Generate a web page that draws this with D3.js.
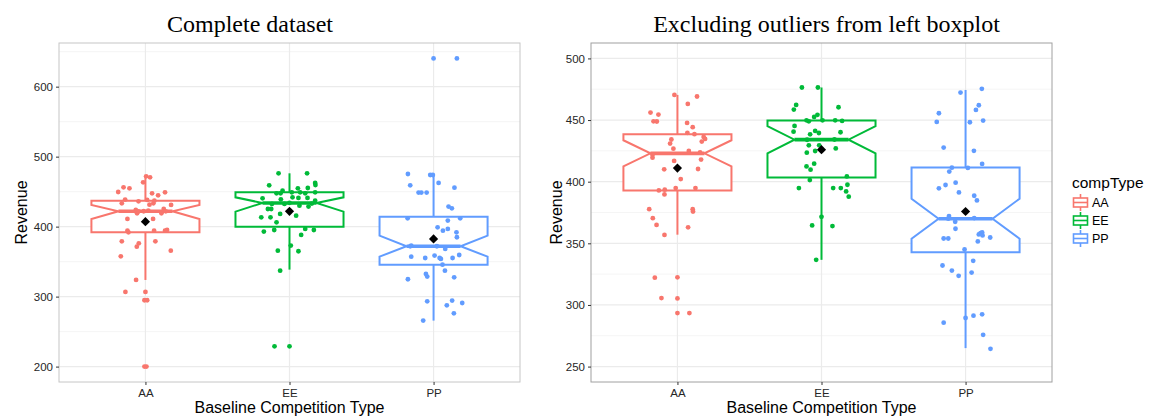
<!DOCTYPE html>
<html>
<head>
<meta charset="utf-8">
<script src="https://cdn.jsdelivr.net/npm/d3@7"></script>
<style>
  body { margin: 0; background: #fff; }
  svg { display: block; }
</style>
</head>
<body>
<div id="chart"></div>
<script>
// categories and tick values
var categories = ["AA", "EE", "PP"];
var yTicksComplete = [200, 300, 400, 500, 600];
var yMinorComplete = [250, 350, 450, 550, 650];
var yTicksExcl = [250, 300, 350, 400, 450, 500];
var yMinorExcl = [275, 325, 375, 425, 475];

// revenue of each point, complete dataset
var completeAA = [471.9, 470.5, 463.3, 456.2, 454.8, 449.5, 447.6, 449.0, 444.8, 438.6, 433.3, 436.2, 438.1, 437.1,
  433.3, 431.4, 431.0, 423.8, 419.0, 421.9, 425.2, 421.9, 419.0, 411.0, 411.0, 394.3, 391.9, 394.3, 394.3, 395.2,
  379.0, 379.0, 376.2, 371.4, 365.7, 357.6, 323.8, 306.7, 306.7, 294.8, 294.8, 200.0, 200.0, 422.0, 423.0];
var completeEE = [476.2, 476.2, 462.4, 459.5, 459.0, 454.8, 455.2, 451.4, 447.6, 447.6, 449.0, 449.0, 447.6, 449.0,
  440.5, 439.0, 441.9, 441.0, 441.0, 437.1, 432.4, 432.4, 430.0, 425.2, 425.2, 428.6, 418.1, 415.7, 413.3, 413.3,
  406.2, 395.2, 392.9, 396.7, 395.2, 388.1, 372.9, 365.7, 364.8, 337.1, 229.0, 229.0, 434.0, 433.0];
var completePP = [475.2, 473.8, 473.8, 459.0, 462.4, 455.7, 448.6, 448.6, 448.6, 428.6, 426.2, 411.9, 411.9, 408.6,
  399.0, 394.3, 396.7, 391.9, 384.8, 372.9, 368.1, 357.1, 355.2, 358.6, 355.2, 353.8, 355.2, 359.5, 345.7, 337.1,
  332.4, 328.6, 324.8, 327.6, 293.3, 294.3, 287.6, 290.9, 276.2, 265.7, 640.4, 640.4, 372.0, 371.9];
// jitter offsets, in category steps
var completeAAJitter = [0.005, 0.032, -0.016, -0.152, -0.111, -0.189, 0.046, 0.136, 0.088, -0.141, -0.164, -0.048, 0.012, 0.062,
  0.055, 0.028, 0.178, -0.067, -0.058, -0.048, 0.127, 0.141, 0.111, -0.125, 0.053, -0.125, -0.118, 0.06, 0.136, 0.15,
  -0.164, 0.069, -0.046, -0.06, 0.176, -0.171, -0.065, -0.139, 0, -0.007, 0.012, -0.007, 0.007, -0.012, 0.02];
var completeEEJitter = [-0.076, 0.122, 0.178, 0.18, -0.141, 0.058, 0.127, -0.048, -0.09, -0.062, 0.016, 0.074, 0.109, 0.178,
  -0.187, -0.06, 0.021, 0.062, 0.125, 0.178, -0.122, -0.035, 0.069, -0.15, -0.127, 0.132, -0.065, 0.046, -0.196, -0.132,
  -0.09, -0.106, -0.178, 0.109, 0.169, 0.081, 0.009, -0.081, 0.062, -0.065, -0.104, 0, 0, 0.155];
var completePPJitter = [-0.178, -0.023, -0.005, -0.162, 0.035, 0.145, -0.104, -0.085, -0.048, 0.104, 0.127, -0.18, 0.185, 0.099,
  0.028, 0.065, 0.099, 0.159, 0.162, -0.155, 0.081, -0.155, -0.058, 0.007, 0.042, 0.051, 0.132, 0.178, 0.062, 0.079,
  -0.053, -0.044, -0.178, 0.143, -0.044, 0.129, 0.092, 0.199, 0.141, -0.072, 0, 0.162, 0.023, -0.162];

// revenue of each point, outliers excluded
var exclAA = [470.4, 469.1, 463.1, 456.1, 454.4, 449.0, 448.8, 447.7, 444.2, 439.6, 438.5, 436.3, 434.7, 434.2,
  432.5, 430.9, 426.8, 424.9, 423.8, 421.9, 419.5, 417.9, 416.8, 410.0, 410.3, 402.1, 392.9, 393.5, 389.7, 394.8,
  394.8, 377.7, 375.8, 377.7, 370.4, 364.9, 363.0, 356.8, 322.1, 322.4, 305.6, 305.3, 293.4, 293.4];
var exclEE = [476.4, 476.4, 460.4, 462.3, 458.5, 454.2, 452.5, 449.8, 449.0, 449.8, 449.8, 449.3, 445.2, 440.6,
  441.2, 439.5, 438.4, 440.1, 429.5, 429.5, 427.0, 424.9, 423.5, 412.4, 409.7, 414.6, 401.3, 404.3, 394.8, 394.8,
  394.8, 397.5, 392.1, 387.8, 371.5, 364.5, 364.0, 336.6, 434.0, 434.2, 425.9];
var exclPP = [475.3, 472.3, 462.0, 458.2, 455.5, 448.5, 448.2, 449.6, 427.7, 425.0, 414.4, 411.4, 411.2, 408.2,
  399.2, 397.3, 394.6, 391.3, 388.6, 384.8, 372.1, 367.5, 361.8, 353.9, 353.9, 358.3, 358.8, 357.2, 351.5, 354.7,
  356.4, 345.0, 335.8, 332.0, 327.9, 323.6, 326.3, 292.4, 291.3, 289.4, 285.6, 275.8, 264.4, 370.0, 370.5];
var exclAAJitter = [-0.021, 0.136, 0.072, -0.187, -0.132, -0.166, -0.143, 0.067, 0.106, 0.069, 0.118, 0.182, 0.192, -0.042,
  0.169, -0.051, -0.028, 0.079, 0.157, -0.173, -0.173, 0.164, -0.023, -0.092, 0.143, 0.023, -0.129, -0.088, -0.09, -0.012,
  0.125, 0.106, 0.108, -0.196, -0.171, -0.145, 0.074, -0.09, -0.157, 0, -0.111, 0, 0, 0.083];
var exclEEJitter = [-0.136, -0.025, 0.118, -0.176, -0.192, -0.028, -0.051, -0.104, -0.088, 0.007, 0.095, 0.143, -0.187, -0.194,
  -0.044, -0.018, -0.079, 0.132, -0.088, -0.016, 0.099, -0.044, -0.102, -0.104, -0.076, -0.051, -0.081, 0.176, -0.157, 0.081,
  0.134, 0.18, 0.171, 0.189, 0, -0.065, 0.076, -0.037, -0.1, 0.09, 0];
var exclPPJitter = [0.113, -0.035, 0.092, 0.072, -0.185, -0.2, 0.03, 0.122, -0.152, 0.058, 0.115, -0.095, 0.016, -0.113,
  -0.069, -0.139, -0.185, -0.046, 0.06, 0.079, -0.115, -0.072, -0.07, -0.152, -0.12, 0.104, 0.115, 0.092, 0.085, 0.171,
  0.118, -0.007, 0.053, -0.16, -0.095, -0.048, 0.042, 0.115, 0.055, 0, -0.152, 0.122, 0.173, -0.12, 0.06];

// boxplot statistics (AA, EE, PP)
var completeQ1 = [391.9, 400.0, 345.7];
var completeMedian = [421.9, 433.8, 371.9];
var completeQ3 = [437.1, 449.0, 414.3];
var completeNotchLo = [411.0, 421.4, 357.1];
var completeNotchHi = [431.0, 441.9, 387.1];
var completeWhiskerLo = [323.8, 338.6, 265.7];
var completeWhiskerHi = [471.9, 476.2, 473.8];
var completeMean = [407.1, 421.9, 382.4];

var exclQ1 = [392.9, 403.3, 342.8];
var exclMedian = [423.0, 434.1, 369.9];
var exclQ3 = [438.5, 449.6, 411.6];
var exclNotchLo = [412.4, 423.0, 353.7];
var exclNotchHi = [433.6, 445.0, 386.2];
var exclWhiskerLo = [357.0, 336.6, 265.0];
var exclWhiskerHi = [470.4, 476.4, 474.4];
var exclMean = [411.0, 426.0, 375.8];

var colors = ["#F8766D", "#00BA38", "#619CFF"];

var svgWidth = 1152;
var svgHeight = 416;
var plotTop = 43;
var plotBottom = 382;

var svg = d3.select("#chart")
  .append("svg")
  .attr("width", svgWidth)
  .attr("height", svgHeight);

var panels = [
  {
    title: "Complete dataset", titleX: 250, left: 59, right: 520, domain: [178, 662.4],
    ticks: yTicksComplete, minor: yMinorComplete, yTitleX: 27, border: "#c6c6c6",
    values: [completeAA, completeEE, completePP],
    jitter: [completeAAJitter, completeEEJitter, completePPJitter],
    q1: completeQ1, med: completeMedian, q3: completeQ3, nlo: completeNotchLo, nhi: completeNotchHi,
    wlo: completeWhiskerLo, whi: completeWhiskerHi, mean: completeMean
  },
  {
    title: "Excluding outliers from left boxplot", titleX: 826.5, left: 591, right: 1052, domain: [237.5, 512.5],
    ticks: yTicksExcl, minor: yMinorExcl, yTitleX: 562, border: "#a0a0a0",
    values: [exclAA, exclEE, exclPP],
    jitter: [exclAAJitter, exclEEJitter, exclPPJitter],
    q1: exclQ1, med: exclMedian, q3: exclQ3, nlo: exclNotchLo, nhi: exclNotchHi,
    wlo: exclWhiskerLo, whi: exclWhiskerHi, mean: exclMean
  }
];

function drawPanel(p) {
  var x = d3.scalePoint().domain(categories).range([p.left, p.right]).padding(0.6);
  var y = d3.scaleLinear().domain(p.domain).range([plotBottom, plotTop]);
  var step = x.step();
  var w = step * 0.75;
  var g = svg.append("g");

  // title
  svg.append("text")
    .attr("x", p.titleX)
    .attr("y", 32)
    .attr("text-anchor", "middle")
    .style("font-family", "'Liberation Serif', 'Times New Roman', serif")
    .style("font-size", "24px")
    .attr("fill", "#000")
    .text(p.title);

  // grid
  g.selectAll(".minor").data(p.minor).enter().append("line")
    .attr("x1", p.left).attr("x2", p.right)
    .attr("y1", d => y(d)).attr("y2", d => y(d))
    .attr("stroke", "#f3f3f3").attr("stroke-width", 0.8);
  g.selectAll(".major").data(p.ticks).enter().append("line")
    .attr("x1", p.left).attr("x2", p.right)
    .attr("y1", d => y(d)).attr("y2", d => y(d))
    .attr("stroke", "#ebebeb").attr("stroke-width", 1.2);
  g.selectAll(".xgrid").data(categories).enter().append("line")
    .attr("x1", d => x(d)).attr("x2", d => x(d))
    .attr("y1", plotTop).attr("y2", plotBottom)
    .attr("stroke", "#ebebeb").attr("stroke-width", 1.2);

  // border
  g.append("rect")
    .attr("x", p.left).attr("y", plotTop)
    .attr("width", p.right - p.left).attr("height", plotBottom - plotTop)
    .attr("fill", "none").attr("stroke", p.border).attr("stroke-width", 1);

  // axes
  var yAxis = g.append("g")
    .attr("transform", "translate(" + p.left + ",0)")
    .call(d3.axisLeft(y).tickValues(p.ticks).tickSize(3).tickPadding(3));
  var xAxis = g.append("g")
    .attr("transform", "translate(0," + plotBottom + ")")
    .call(d3.axisBottom(x).tickSize(3).tickPadding(4));
  [yAxis, xAxis].forEach(function (a) {
    a.select(".domain").remove();
    a.selectAll("line").attr("stroke", "#333");
    a.selectAll("text")
      .attr("fill", "#262626")
      .style("font-family", "'Liberation Sans', Arial, sans-serif")
      .style("font-size", "11.5px");
  });

  // axis titles
  g.append("text")
    .attr("x", (p.left + p.right) / 2)
    .attr("y", 413)
    .attr("text-anchor", "middle")
    .style("font-family", "'Liberation Sans', Arial, sans-serif")
    .style("font-size", "16px")
    .text("Baseline Competition Type");
  g.append("text")
    .attr("transform", "translate(" + p.yTitleX + "," + ((plotTop + plotBottom) / 2) + ") rotate(-90)")
    .attr("text-anchor", "middle")
    .style("font-family", "'Liberation Sans', Arial, sans-serif")
    .style("font-size", "16px")
    .text("Revenue");

  // boxplots
  categories.forEach(function (c, i) {
    var cx = x(c);
    var x0 = cx - w / 2, x1 = cx + w / 2, inset = w / 4;
    var col = colors[i];
    g.append("line")
      .attr("x1", cx).attr("x2", cx)
      .attr("y1", y(p.q3[i])).attr("y2", y(p.whi[i]))
      .attr("stroke", col).attr("stroke-width", 2);
    g.append("line")
      .attr("x1", cx).attr("x2", cx)
      .attr("y1", y(p.q1[i])).attr("y2", y(p.wlo[i]))
      .attr("stroke", col).attr("stroke-width", 2);
    var path = d3.path();
    path.moveTo(x0, y(p.q3[i]));
    path.lineTo(x1, y(p.q3[i]));
    path.lineTo(x1, y(p.nhi[i]));
    path.lineTo(x1 - inset, y(p.med[i]));
    path.lineTo(x1, y(p.nlo[i]));
    path.lineTo(x1, y(p.q1[i]));
    path.lineTo(x0, y(p.q1[i]));
    path.lineTo(x0, y(p.nlo[i]));
    path.lineTo(x0 + inset, y(p.med[i]));
    path.lineTo(x0, y(p.nhi[i]));
    path.closePath();
    g.append("path")
      .attr("d", path.toString())
      .attr("fill", "#fff")
      .attr("stroke", col).attr("stroke-width", 2)
      .attr("stroke-linejoin", "miter");
    g.append("line")
      .attr("x1", x0 + inset).attr("x2", x1 - inset)
      .attr("y1", y(p.med[i])).attr("y2", y(p.med[i]))
      .attr("stroke", col).attr("stroke-width", 3.6);
  });

  // jittered points
  categories.forEach(function (c, i) {
    g.append("g").selectAll("circle")
      .data(p.values[i])
      .enter()
      .append("circle")
      .attr("cx", (d, j) => x(c) + p.jitter[i][j] * step)
      .attr("cy", d => y(d))
      .attr("r", 2.4)
      .attr("fill", colors[i]);
  });

  // mean diamonds
  g.selectAll(".mean").data(p.mean).enter().append("path")
    .attr("d", function (d, i) {
      var cx = x(categories[i]), cy = y(d), s = 4.6;
      return "M" + cx + "," + (cy - s) + "L" + (cx + s) + "," + cy + "L" + cx + "," + (cy + s) + "L" + (cx - s) + "," + cy + "Z";
    })
    .attr("fill", "#000");
}

panels.forEach(drawPanel);

// legend
var legend = svg.append("g").attr("transform", "translate(1072,0)");
legend.append("text")
  .attr("x", 0).attr("y", 188)
  .style("font-family", "'Liberation Sans', Arial, sans-serif")
  .style("font-size", "15.5px")
  .text("compType");
categories.forEach(function (c, i) {
  var cy = 202.5 + i * 18;
  var k = legend.append("g").attr("transform", "translate(8.5," + cy + ")");
  k.append("line").attr("x1", 0).attr("x2", 0).attr("y1", -8.5).attr("y2", 8.5)
    .attr("stroke", colors[i]).attr("stroke-width", 1.6);
  k.append("rect").attr("x", -7).attr("y", -4.5).attr("width", 14).attr("height", 9)
    .attr("fill", "#fff").attr("stroke", colors[i]).attr("stroke-width", 1.6);
  k.append("line").attr("x1", -7).attr("x2", 7).attr("y1", 0).attr("y2", 0)
    .attr("stroke", colors[i]).attr("stroke-width", 1.6);
  legend.append("text")
    .attr("x", 20).attr("y", cy + 4.5)
    .style("font-family", "'Liberation Sans', Arial, sans-serif")
    .style("font-size", "12.5px")
    .text(c);
});
</script>
</body>
</html>
